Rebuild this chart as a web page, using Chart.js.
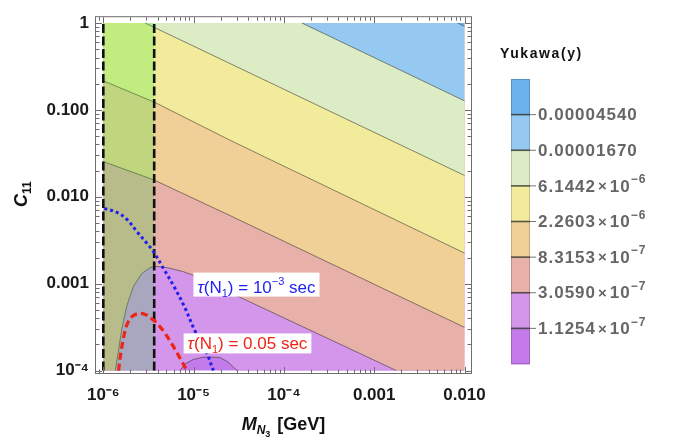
<!DOCTYPE html>
<html><head><meta charset="utf-8">
<script src="https://cdn.jsdelivr.net/npm/chart.js@4/dist/chart.umd.min.js"></script>
<style>html,body{margin:0;padding:0;background:#fff;}#wrap{width:678px;height:445px;}</style>
</head><body><div id="wrap"><canvas id="c" width="678" height="445"></canvas></div>
<script>
// ---------------- data ----------------
const xTickValues = [1e-6, 1e-5, 1e-4, 1e-3, 1e-2];
const xTickLabels = ['10⁻⁶', '10⁻⁵', '10⁻⁴', '0.001', '0.010'];
const yTickValues = [1e-4, 1e-3, 1e-2, 1e-1, 1];
const yTickLabels = ['10⁻⁴', '0.001', '0.010', '0.100', '1'];
const xAxisRange = [8.3e-7, 0.0118];
const yAxisRange = [9.38e-5, 1.166];
const massDomain = [1e-6, 1e-2];
const couplingDomain = [1e-4, 1];

// contour levels of Yukawa(y), highest first
const levelMantissas = ['0.00004540', '0.00001670', '6.1442', '2.2603', '8.3153', '3.0590', '1.1254'];
const levelExponents = ['', '', '−6', '−6', '−7', '−7', '−7'];
const bandColors = ['#6cb3ec', '#96c9f2', '#dcecc5', '#f3eb9c', '#f1d098', '#e7b0a8', '#d496ea', '#c47aea'];

// contour lines [M_N3, C11]
const contour4540e8 = [[8.4e-3, 1], [1e-2, 0.915]];
const contour1670e8 = [[1.58e-4, 1], [1e-2, 0.127]];
const contour6144e10 = [[2.9e-6, 1], [1e-2, 0.0176]];
const contour2260e10 = [[1e-6, 0.216], [3.66e-6, 0.123], [2.53e-5, 0.0448], [1e-2, 2.25e-3]];
const contour8315e11 = [[1e-6, 0.0254], [3.66e-6, 0.0156], [2.53e-5, 6.08e-3], [1e-2, 3.15e-4]];
const contour3059e11 = [[1.357e-6, 1e-4], [1.476e-6, 1.709e-4], [1.609e-6, 3.097e-4], [1.827e-6, 5.62e-4],
  [2.162e-6, 9.37e-4], [2.677e-6, 1.315e-3], [3.306e-6, 1.533e-3], [3.754e-6, 1.585e-3], [5.06e-6, 1.533e-3],
  [7.71e-6, 1.374e-3], [1.085e-5, 1.209e-3], [3.0e-5, 7.26e-4], [1.759e-3, 1e-4]];
const contour1125e11 = [[7.09e-6, 1e-4], [8.05e-6, 1.196e-4], [9.87e-6, 1.341e-4], [1.274e-5, 1.429e-4],
  [1.601e-5, 1.429e-4], [1.963e-5, 1.411e-4], [2.405e-5, 1.258e-4], [2.802e-5, 1.08e-4], [3.025e-5, 1e-4]];

// excluded mass strip (dashed bounds)
const stripBounds = [1e-6, 3.66e-6];

// lifetime curves
const tau1msCurve = [[1.026e-6, 7.36e-3], [1.417e-6, 6.614e-3], [1.827e-6, 5.49e-3], [2.357e-6, 3.972e-3],
  [2.986e-6, 2.977e-3], [3.595e-6, 2.335e-3], [4.64e-6, 1.494e-3], [6.09e-6, 9.2e-4], [7.85e-6, 5.53e-4],
  [1.039e-5, 2.846e-4], [1.399e-5, 1.582e-4], [1.655e-5, 1e-4]];
const tau50msCurve = [[1.476e-6, 1e-4], [1.541e-6, 1.44e-4], [1.676e-6, 2.399e-4], [1.827e-6, 3.377e-4],
  [2.075e-6, 4.173e-4], [2.455e-6, 4.54e-4], [2.911e-6, 4.43e-4], [3.306e-6, 4.07e-4], [3.754e-6, 3.674e-4],
  [4.64e-6, 2.846e-4], [5.74e-6, 2.027e-4], [7.09e-6, 1.382e-4], [8.41e-6, 1e-4]];
const tauLabelAnchors = [[4.97e-5, 7.9e-4], [3.95e-5, 1.753e-4]];
const tauLabelValues = [['10', '−3'], ['0.05', '']];

// ---------------- styles ----------------
const FONT = '"Liberation Sans", Arial, Helvetica, sans-serif';
const contourStroke = 'rgba(45,45,40,0.55)';
const stripColor = 'rgba(0,235,20,0.2)';
const blueColor = '#1f1fee';
const redColor = '#ee2414';

const P = a => a.map(([x, y]) => ({x, y}));
const yb = couplingDomain[0];

function bandFill(points, color) {
  return { data: P(points), fill: {value: couplingDomain[1]}, backgroundColor: color,
    borderWidth: 0, borderColor: 'rgba(0,0,0,0)', pointRadius: 0, tension: 0 };
}
function contourLine(points) {
  return { data: P(points), fill: false, borderColor: contourStroke, borderWidth: 1, pointRadius: 0, tension: 0 };
}
const edgeL = [massDomain[0], yb], edgeR = [massDomain[1], yb];
const contours = [contour1125e11, contour3059e11, contour8315e11, contour2260e10, contour6144e10, contour1670e8, contour4540e8];
const drawList = [
  bandFill([edgeL, edgeR], bandColors[7]),
  bandFill([edgeL, ...contour1125e11, edgeR], bandColors[6]),
  bandFill([edgeL, ...contour3059e11, edgeR], bandColors[5]),
  bandFill(contour8315e11, bandColors[4]),
  bandFill(contour2260e10, bandColors[3]),
  bandFill(contour6144e10, bandColors[2]),
  bandFill(contour1670e8, bandColors[1]),
  bandFill(contour4540e8, bandColors[0]),
  ...contours.map(contourLine),
  { data: P([[stripBounds[0], yb], [stripBounds[1], yb]]), fill: {value: couplingDomain[1]},
    backgroundColor: stripColor, borderWidth: 0, pointRadius: 0 },
  ...stripBounds.map(b => ({ data: P([[b, couplingDomain[0]], [b, couplingDomain[1]]]), fill: false,
    borderColor: '#111', borderWidth: 2.6, borderDash: [9, 3.5], pointRadius: 0 })),
  { data: P(tau1msCurve), fill: false, borderColor: blueColor, borderWidth: 3, borderDash: [3, 3],
    pointRadius: 0, tension: 0.35 },
  { data: P(tau50msCurve), fill: false, borderColor: redColor, borderWidth: 3.2, borderDash: [7, 4],
    pointRadius: 0, tension: 0.35 }
];
drawList.forEach((d, i) => { d.order = drawList.length - i; });

// ---------------- helpers ----------------
function richWidth(ctx, parts) {
  let w = 0;
  for (const p of parts) { ctx.font = p.font; w += ctx.measureText(p.t).width + (p.gap || 0); }
  return w;
}
function drawRich(ctx, parts, x, y) {
  for (const p of parts) {
    ctx.font = p.font;
    if (p.color) ctx.fillStyle = p.color;
    ctx.fillText(p.t, x, y + (p.dy || 0));
    x += ctx.measureText(p.t).width + (p.gap || 0);
  }
}
function logTickList(min, max) {
  const out = [];
  for (let e = Math.floor(Math.log10(min)); e <= Math.ceil(Math.log10(max)); e++)
    for (let k = 1; k <= 9; k++) {
      const v = k * Math.pow(10, e);
      if (v >= min * 0.9999 && v <= max * 1.0001) out.push({v, major: k === 1});
    }
  return out;
}

const decor = {
  id: 'decor',
  afterDraw(chart) {
    const {ctx, chartArea: ca, scales: {x, y}} = chart;
    ctx.save();
    // frame
    ctx.strokeStyle = '#6e6e6e'; ctx.lineWidth = 1;
    ctx.strokeRect(ca.left - 0.5, ca.top - 0.5, ca.right - ca.left + 1, ca.bottom - ca.top + 1);
    // frame ticks
    ctx.beginPath();
    for (const t of logTickList(xAxisRange[0], xAxisRange[1])) {
      const px = Math.round(x.getPixelForValue(t.v)) + 0.5, L = t.major ? 6 : 3.5;
      ctx.moveTo(px, ca.bottom); ctx.lineTo(px, ca.bottom - L);
      ctx.moveTo(px, ca.top); ctx.lineTo(px, ca.top + L);
    }
    for (const t of logTickList(yAxisRange[0], yAxisRange[1])) {
      const py = Math.round(y.getPixelForValue(t.v)) + 0.5, L = t.major ? 6 : 3.5;
      ctx.moveTo(ca.left, py); ctx.lineTo(ca.left + L, py);
      ctx.moveTo(ca.right, py); ctx.lineTo(ca.right - L, py);
    }
    ctx.stroke();

    // axis titles
    ctx.fillStyle = '#111'; ctx.textBaseline = 'alphabetic';
    const xt = [
      {t: 'M', font: `italic bold 18px ${FONT}`},
      {t: 'N', font: `italic bold 12px ${FONT}`, dy: 4},
      {t: '3', font: `bold 9px ${FONT}`, dy: 7, gap: 2},
      {t: ' [GeV]', font: `bold 18px ${FONT}`}
    ];
    const xtw = richWidth(ctx, xt);
    drawRich(ctx, xt, (ca.left + ca.right) / 2 - xtw / 2, 430);
    const yt = [
      {t: 'C', font: `italic bold 18px ${FONT}`},
      {t: '11', font: `bold 12px ${FONT}`, dy: 4}
    ];
    const ytw = richWidth(ctx, yt);
    ctx.save(); ctx.translate(27, (ca.top + ca.bottom) / 2 - 1); ctx.rotate(-Math.PI / 2);
    drawRich(ctx, yt, -ytw / 2, 0);
    ctx.restore();

    // lifetime labels
    const colors = [blueColor, redColor];
    tauLabelAnchors.forEach(([ax, ay], i) => {
      const [val, sup] = tauLabelValues[i];
      const parts = [
        {t: 'τ', font: `italic 17px ${FONT}`},
        {t: '(N', font: `17px ${FONT}`},
        {t: '1', font: `11px ${FONT}`, dy: 4},
        {t: ') = ' + val, font: `17px ${FONT}`}
      ];
      if (sup) parts.push({t: sup, font: `11px ${FONT}`, dy: -8});
      parts.push({t: ' sec', font: `17px ${FONT}`});
      const w = richWidth(ctx, parts);
      const cx = x.getPixelForValue(ax), by = y.getPixelForValue(ay);
      const topPad = sup ? 20 : 16;
      ctx.fillStyle = '#fff';
      ctx.fillRect(cx - w / 2 - 4, by - topPad, w + 8, topPad + 4);
      ctx.fillStyle = colors[i];
      drawRich(ctx, parts, cx - w / 2, by);
    });

    // colour bar legend
    const bx0 = 511, bx1 = 530, by0 = 79, by1 = 364;
    const n = bandColors.length, h = (by1 - by0) / n;
    bandColors.forEach((c, i) => { ctx.fillStyle = c; ctx.fillRect(bx0, by0 + i * h, bx1 - bx0, h + 0.5); });
    ctx.strokeStyle = 'rgba(0,0,0,0.18)'; ctx.lineWidth = 1;
    ctx.strokeRect(bx0 + 0.5, by0 + 0.5, bx1 - bx0 - 1, by1 - by0 - 1);
    ctx.fillStyle = '#111';
    ctx.font = `bold 14px ${FONT}`;
    ctx.letterSpacing = '1.6px';
    ctx.fillText('Yukawa(y)', 500, 58);
    ctx.letterSpacing = '1px';
    ctx.textBaseline = 'middle';
    levelMantissas.forEach((m, i) => {
      const sy = by0 + (i + 1) * h;
      ctx.strokeStyle = 'rgba(50,50,40,0.8)'; ctx.lineWidth = 1.6;
      ctx.beginPath(); ctx.moveTo(bx0, sy); ctx.lineTo(bx1, sy); ctx.stroke();
      ctx.strokeStyle = '#777'; ctx.lineWidth = 1;
      ctx.beginPath(); ctx.moveTo(bx1, sy); ctx.lineTo(bx1 + 6, sy); ctx.stroke();
      const parts = [{t: m, font: `bold 17px ${FONT}`, color: '#666', gap: levelExponents[i] ? 2 : 0}];
      if (levelExponents[i]) {
        parts.push({t: '×', font: `bold 15px ${FONT}`, gap: 2});
        parts.push({t: '10', font: `bold 17px ${FONT}`});
        parts.push({t: levelExponents[i], font: `bold 12px ${FONT}`, dy: -7});
      }
      drawRich(ctx, parts, 538, sy + 1);
    });
    ctx.letterSpacing = '0px';
    ctx.restore();
  }
};

new Chart(document.getElementById('c'), {
  type: 'line',
  data: {datasets: drawList},
  options: {
    responsive: false, animation: false, devicePixelRatio: 1,
    layout: {padding: {left: 0, right: 207, top: 4, bottom: 0}},
    plugins: {legend: {display: false}, tooltip: {enabled: false}},
    scales: {
      x: {
        type: 'logarithmic', min: xAxisRange[0], max: xAxisRange[1],
        grid: {display: false, drawTicks: false}, border: {display: false},
        afterBuildTicks: s => { s.ticks = xTickValues.map(v => ({value: v})); },
        afterFit: s => { s.height = 72; },
        ticks: {autoSkip: false, maxRotation: 0, minRotation: 0, padding: 12, color: '#1a1a1a',
          font: {family: FONT, size: 17, weight: 'bold'},
          callback: v => { const i = xTickValues.indexOf(v); return i >= 0 ? xTickLabels[i] : ''; }}
      },
      y: {
        type: 'logarithmic', min: yAxisRange[0], max: yAxisRange[1],
        grid: {display: false, drawTicks: false}, border: {display: false},
        afterBuildTicks: s => { s.ticks = yTickValues.map(v => ({value: v})); },
        afterFit: s => { s.width = 96; },
        ticks: {autoSkip: false, padding: 7, color: '#1a1a1a',
          font: {family: FONT, size: 17, weight: 'bold'},
          callback: v => { const i = yTickValues.indexOf(v); return i >= 0 ? yTickLabels[i] : ''; }}
      }
    }
  },
  plugins: [decor]
});
</script>
</body></html>
